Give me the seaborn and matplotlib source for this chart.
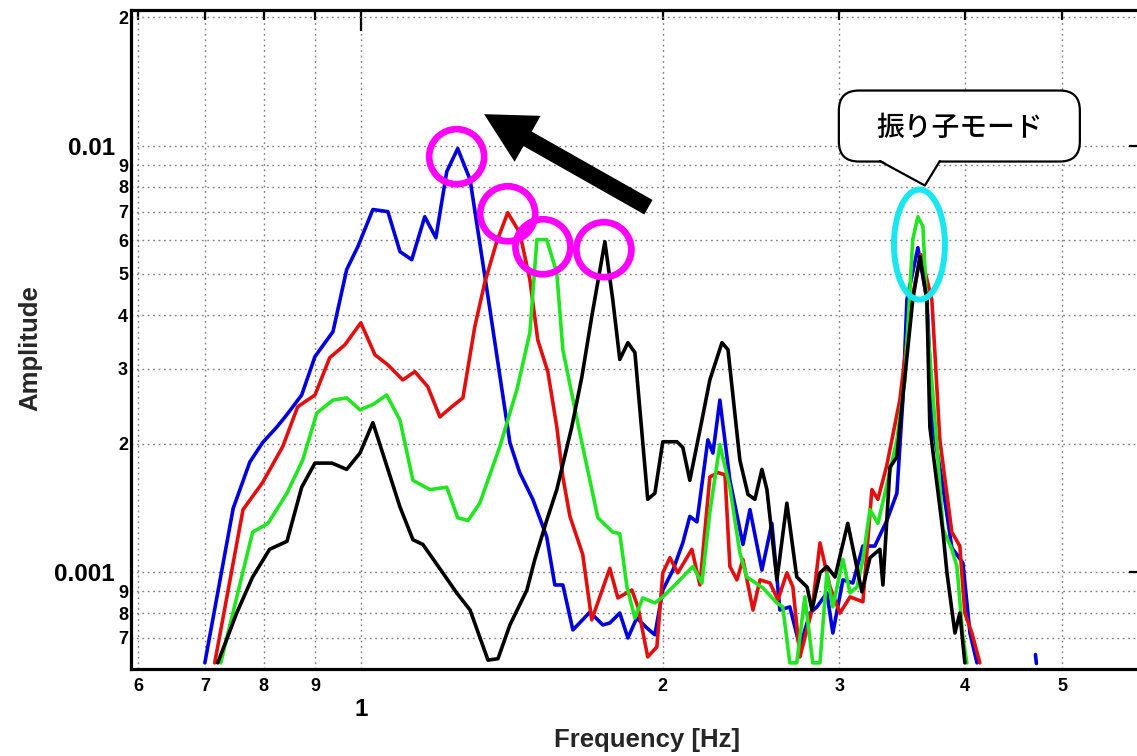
# Amplitude spectra of four runs, log-log, with the peak shift marked

import pandas as pd
import seaborn as sns
from matplotlib import pyplot as plt
from matplotlib.patches import Ellipse, FancyBboxPatch, Polygon
from matplotlib.lines import Line2D
from matplotlib.transforms import ScaledTranslation
from matplotlib.ticker import FixedLocator, FixedFormatter


# Spectra (frequency in Hz, amplitude)
blue_freq = [0.699, 0.746, 0.775, 0.798, 0.825, 0.844, 0.873, 0.900, 0.938, 0.968, 0.993, 1.028,
             1.064, 1.094, 1.124, 1.158, 1.188, 1.218, 1.249, 1.285, 1.345, 1.408, 1.440, 1.484,
             1.532, 1.561, 1.590, 1.627, 1.692, 1.743, 1.771, 1.812, 1.846, 1.884, 1.928, 1.964,
             2.000, 2.047, 2.094, 2.128, 2.163, 2.218, 2.244, 2.280, 2.333, 2.404, 2.443, 2.511,
             2.569, 2.617, 2.677, 2.740, 2.804, 2.849, 2.915, 2.955, 3.024, 3.094, 3.166, 3.254,
             3.345, 3.423, 3.470, 3.503, 3.592, 3.667, 3.718, 3.796, 3.883, 3.983, 4.048, 4.114]
blue_amp = [0.000612, 0.00141, 0.00181, 0.00201, 0.00219, 0.00234, 0.00260, 0.00320, 0.00366, 0.00512,
            0.00579, 0.00708, 0.00700, 0.00564, 0.00540, 0.00681, 0.00608, 0.00869, 0.00984, 0.00832,
            0.00412, 0.00201, 0.00171, 0.00148, 0.00121, 0.000932, 0.000932, 0.000731, 0.000805,
            0.000751, 0.000759, 0.000801, 0.000700, 0.000780, 0.000739, 0.000712, 0.000907, 0.00101,
            0.00117, 0.00135, 0.00131, 0.00204, 0.00190, 0.00253, 0.00164, 0.00116, 0.00140, 0.00101,
            0.00130, 0.000814, 0.000828, 0.000667, 0.000801, 0.000828, 0.000893, 0.000719, 0.000958,
            0.000942, 0.00115, 0.00115, 0.00132, 0.00153, 0.00253, 0.00435, 0.00576, 0.00435, 0.00219,
            0.00164, 0.00114, 0.00105, 0.000719, 0.000612]
# short isolated blue piece near 4.7 Hz
blue_tail_freq = [4.705, 4.715]
blue_tail_amp = [0.00064, 0.00061]

red_freq = [0.715, 0.763, 0.798, 0.836, 0.865, 0.900, 0.931, 0.964, 1.000, 1.033, 1.064, 1.101,
            1.132, 1.166, 1.199, 1.232, 1.264, 1.299, 1.329, 1.366, 1.401, 1.440, 1.474, 1.501,
            1.536, 1.568, 1.590, 1.616, 1.664, 1.699, 1.771, 1.804, 1.863, 1.889, 1.932, 1.973,
            2.000, 2.033, 2.070, 2.138, 2.178, 2.228, 2.270, 2.307, 2.333, 2.371, 2.404, 2.460,
            2.500, 2.558, 2.605, 2.659, 2.696, 2.740, 2.817, 2.869, 2.936, 3.004, 3.074, 3.166,
            3.232, 3.277, 3.345, 3.446, 3.542, 3.617, 3.709, 3.778, 3.883, 3.955, 4.001, 4.066, 4.141]
red_amp = [0.000612, 0.00140, 0.00162, 0.00197, 0.00244, 0.00260, 0.00318, 0.00341, 0.00384, 0.00323,
           0.00306, 0.00282, 0.00295, 0.00272, 0.00231, 0.00244, 0.00256, 0.00376, 0.00477, 0.00595,
           0.00696, 0.00625, 0.00485, 0.00350, 0.00295, 0.00219, 0.00167, 0.00135, 0.00110, 0.000772,
           0.00102, 0.000869, 0.000907, 0.000828, 0.000632, 0.000667, 0.000995, 0.00108, 0.000995,
           0.00113, 0.000932, 0.00167, 0.00171, 0.00169, 0.00103, 0.000958, 0.00107, 0.000814,
           0.000958, 0.000942, 0.000860, 0.000995, 0.000922, 0.000632, 0.000814, 0.00117, 0.000922,
           0.000801, 0.000874, 0.000851, 0.00156, 0.00148, 0.00178, 0.00253, 0.00435, 0.00555,
           0.00435, 0.00204, 0.00124, 0.00115, 0.000801, 0.000719, 0.000612]

green_freq = [0.725, 0.780, 0.808, 0.844, 0.875, 0.904, 0.938, 0.968, 0.998, 1.028, 1.061, 1.094,
              1.127, 1.172, 1.218, 1.249, 1.279, 1.314, 1.376, 1.431, 1.474, 1.498, 1.532, 1.568,
              1.590, 1.653, 1.723, 1.783, 1.812, 1.842, 1.876, 1.910, 1.964, 2.000, 2.066, 2.143,
              2.188, 2.228, 2.280, 2.333, 2.387, 2.425, 2.517, 2.599, 2.634, 2.677, 2.720, 2.771,
              2.822, 2.869, 2.915, 2.955, 3.024, 3.074, 3.124, 3.166, 3.218, 3.277, 3.353, 3.423,
              3.486, 3.550, 3.592, 3.634, 3.676, 3.753, 3.805, 3.883, 3.929, 3.983, 4.020]
green_amp = [0.000612, 0.00124, 0.00130, 0.00153, 0.00183, 0.00236, 0.00253, 0.00256, 0.00240, 0.00247,
             0.00260, 0.00227, 0.00164, 0.00156, 0.00158, 0.00134, 0.00132, 0.00145, 0.00197, 0.00268,
             0.00364, 0.00602, 0.00602, 0.00503, 0.00332, 0.00212, 0.00134, 0.00124, 0.00123, 0.000922,
             0.000780, 0.000869, 0.000846, 0.000874, 0.000942, 0.00103, 0.000942, 0.00138, 0.00199,
             0.00158, 0.00111, 0.000973, 0.000917, 0.000846, 0.000828, 0.000612, 0.000612, 0.000874,
             0.000612, 0.000612, 0.000995, 0.000828, 0.00107, 0.000893, 0.000922, 0.00107, 0.00140,
             0.00130, 0.00164, 0.00204, 0.00282, 0.00602, 0.00681, 0.00646, 0.00364, 0.00197, 0.00126,
             0.00113, 0.00103, 0.000704, 0.000612]

black_freq = [0.720, 0.752, 0.780, 0.811, 0.844, 0.873, 0.900, 0.936, 0.968, 0.998, 1.028, 1.094,
              1.127, 1.153, 1.207, 1.246, 1.285, 1.339, 1.370, 1.408, 1.464, 1.491, 1.532, 1.568,
              1.623, 1.661, 1.699, 1.751, 1.783, 1.812, 1.846, 1.876, 1.932, 1.964, 2.000, 2.066,
              2.094, 2.128, 2.188, 2.228, 2.291, 2.323, 2.387, 2.432, 2.471, 2.511, 2.540, 2.599,
              2.659, 2.720, 2.785, 2.817, 2.869, 2.915, 2.970, 3.058, 3.159, 3.218, 3.292, 3.315,
              3.369, 3.423, 3.446, 3.550, 3.609, 3.667, 3.692, 3.805, 3.840, 3.911, 3.955, 4.001]
black_amp = [0.000612, 0.000801, 0.000973, 0.00113, 0.00118, 0.00158, 0.00180, 0.00180, 0.00174, 0.00190,
             0.00224, 0.00142, 0.00119, 0.00116, 0.000995, 0.000893, 0.000814, 0.000621, 0.000626,
             0.000751, 0.000907, 0.00107, 0.00132, 0.00156, 0.00219, 0.00287, 0.00397, 0.00595, 0.00435,
             0.00315, 0.00345, 0.00327, 0.00148, 0.00153, 0.00202, 0.00202, 0.00196, 0.00164, 0.00227,
             0.00282, 0.00345, 0.00332, 0.00183, 0.00152, 0.00148, 0.00174, 0.00156, 0.000958, 0.00145,
             0.000973, 0.000922, 0.000814, 0.000995, 0.00103, 0.000973, 0.00130, 0.000898, 0.00108,
             0.00113, 0.000932, 0.00176, 0.00186, 0.00219, 0.00435, 0.00549, 0.00435, 0.00219, 0.00124,
             0.000995, 0.000719, 0.000801, 0.000612]

# tick positions / labels
x_major = [1.0]
x_major_labels = ['1']
x_minor = [0.6, 0.7, 0.8, 0.9, 2, 3, 4, 5, 6]
x_minor_labels = ['6', '7', '8', '9', '2', '3', '4', '5', '6']
y_major = [0.001, 0.01]
y_major_labels = ['0.001', '0.01']
y_minor = [0.0007, 0.0008, 0.0009, 0.002, 0.003, 0.004, 0.005, 0.006, 0.007, 0.008, 0.009, 0.02]
y_minor_labels = ['7', '8', '9', '2', '3', '4', '5', '6', '7', '8', '9', '2']

# annotation anchors
ring_freq = [1.246, 1.401, 1.519, 1.747]
ring_amp = [0.00942, 0.00692, 0.00579, 0.00570]
pendulum_freq, pendulum_amp = 3.605, 0.00586
callout_tip = (3.650, 0.00806)
arrow_tail = (1.935, 0.00717)
arrow_head = (1.327, 0.01185)

colors = {'blue': '#0000dc', 'red': '#e01010', 'green': '#22e422', 'black': '#000000'}


# Main
sns.set_style('white')
plt.rcParams['font.family'] = ['Liberation Sans', 'DejaVu Sans']
plt.rcParams['font.weight'] = 'bold'

frames = []
for run, seg, fr, am in [('blue', 'b1', blue_freq, blue_amp),
                         ('blue', 'b2', blue_tail_freq, blue_tail_amp),
                         ('red', 'r1', red_freq, red_amp),
                         ('green', 'g1', green_freq, green_amp),
                         ('black', 'k1', black_freq, black_amp)]:
    frames.append(pd.DataFrame({'freq': fr, 'amp': am, 'run': run, 'seg': seg}))
data = pd.concat(frames, ignore_index=True)

fig = plt.figure(figsize=(11.37, 7.56), dpi=100)
ax = fig.add_axes([131 / 1137, 87 / 756, 1019 / 1137, 659 / 756])

sns.lineplot(data=data, x='freq', y='amp', hue='run', units='seg', estimator=None,
             hue_order=['blue', 'red', 'green', 'black'], palette=colors,
             linewidth=2.6, legend=False, ax=ax)

ax.set_xscale('log')
ax.set_yscale('log')
ax.set_xlim(0.59, 6.12)
ax.set_ylim(0.000592, 0.0208)

ax.xaxis.set_major_locator(FixedLocator(x_major))
ax.xaxis.set_major_formatter(FixedFormatter(x_major_labels))
ax.xaxis.set_minor_locator(FixedLocator(x_minor))
ax.xaxis.set_minor_formatter(FixedFormatter(x_minor_labels))
ax.yaxis.set_major_locator(FixedLocator(y_major))
ax.yaxis.set_major_formatter(FixedFormatter(y_major_labels))
ax.yaxis.set_minor_locator(FixedLocator(y_minor))
ax.yaxis.set_minor_formatter(FixedFormatter(y_minor_labels))

ax.tick_params(which='both', direction='in', top=True, right=True, width=1.6, color='black',
               labelcolor='black')
ax.tick_params(which='major', length=15)
ax.tick_params(which='minor', length=7.5)
ax.tick_params(axis='x', which='major', pad=21, labelsize=17.5)
ax.tick_params(axis='x', which='minor', pad=6.5, labelsize=13)
ax.tick_params(axis='y', which='major', pad=11.5, labelsize=17.5)
ax.tick_params(axis='y', which='minor', pad=2.2, labelsize=13)

ax.grid(True, which='both', color='#808080', linestyle=(0, (1.3, 2.6)), linewidth=1.0)
for s in ax.spines.values():
    s.set_color('black')
    s.set_linewidth(2.3)

ax.set_xlabel('Frequency [Hz]', fontsize=18.5, fontweight='bold', va='center')
ax.xaxis.set_label_coords(0.506, -0.108)
ax.set_ylabel('Amplitude', fontsize=18.5, fontweight='bold', va='center')
ax.yaxis.set_label_coords(-0.099, 0.487)


def at_point(x, y):
    # inches measured from a data point
    return fig.dpi_scale_trans + ScaledTranslation(x, y, ax.transData)


# magenta rings on the shifting peak
for f, a in zip(ring_freq, ring_amp):
    ax.add_artist(Ellipse((0, 0), 0.55, 0.55, transform=at_point(f, a), fill=False,
                          ec='#ff00ff', lw=4.8, zorder=6, clip_on=False))

# cyan ellipse on the pendulum mode
ax.add_artist(Ellipse((0, 0), 0.51, 1.10, transform=at_point(pendulum_freq, pendulum_amp),
                      fill=False, ec='#19e6f0', lw=4.3, zorder=6, clip_on=False))

# arrow towards lower frequency / larger amplitude
ax.annotate('', xy=arrow_head, xytext=arrow_tail,
            arrowprops=dict(arrowstyle='simple,head_length=0.9,head_width=0.95,tail_width=0.3',
                            mutation_scale=40, fc='black', ec='black', lw=0,
                            shrinkA=0, shrinkB=0), zorder=7)

# speech bubble
tr = at_point(*callout_tip)
ax.add_artist(FancyBboxPatch((-0.86, 0.24), 2.41, 0.71, boxstyle='round,pad=0,rounding_size=0.2',
                             transform=tr, fc='white', ec='black', lw=1.6, zorder=8, clip_on=False))
ax.add_artist(Polygon([(-0.45, 0.262), (0, 0), (0.15, 0.262)], closed=True, transform=tr,
                      fc='white', ec='none', zorder=9, clip_on=False))
ax.add_artist(Line2D([-0.45, 0, 0.15], [0.245, 0, 0.245], transform=tr, color='black', lw=1.6,
                     zorder=10, clip_on=False))
ax.text(0.35, 0.585, '振り子モード', transform=tr, ha='center', va='center', fontsize=20,
        family=['Noto Sans CJK JP', 'DejaVu Sans'], fontweight='medium', color='black', zorder=11)

fig.savefig('out.png', dpi=100)
